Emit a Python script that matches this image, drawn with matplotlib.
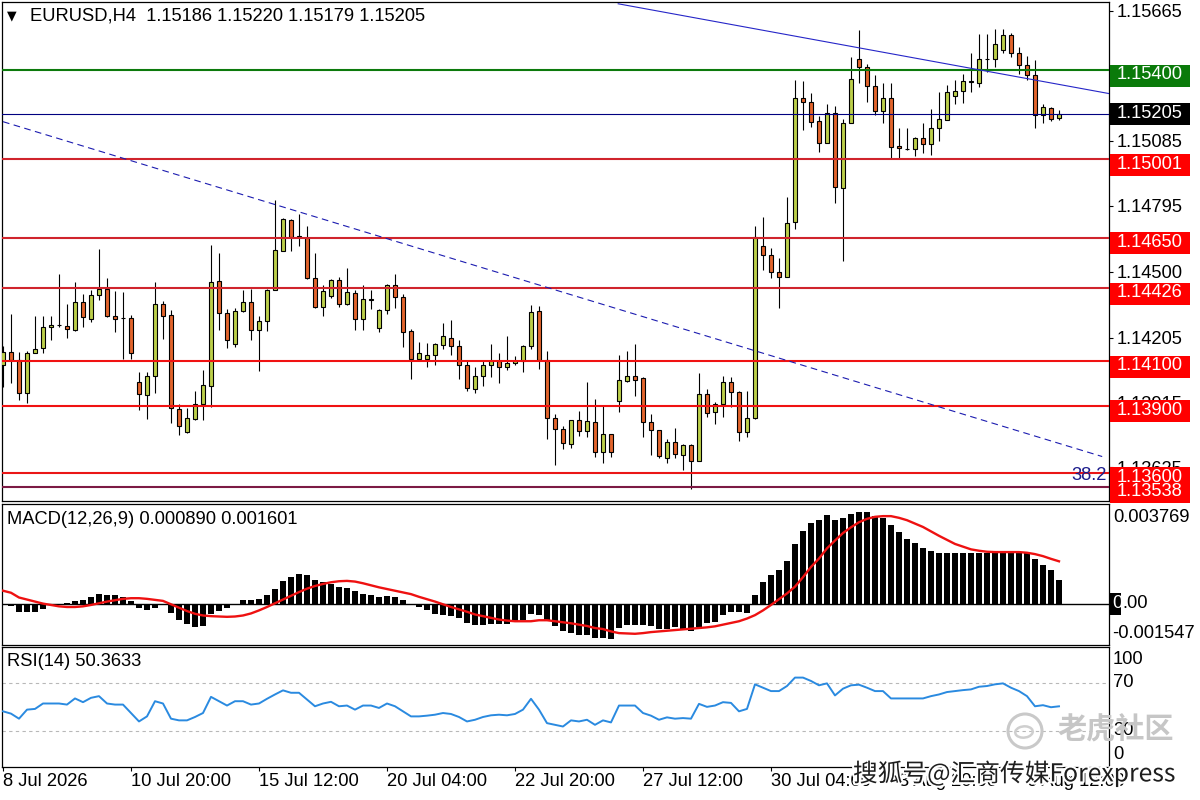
import matplotlib
matplotlib.use('Agg')
import matplotlib.pyplot as plt
import matplotlib.transforms as mtransforms
import matplotlib.patheffects as pe
from matplotlib.patches import Rectangle, Ellipse
import numpy as np

plt.rcParams['font.family'] = ['Liberation Sans', 'DejaVu Sans']

# ---- data (EURUSD H4) ----
opens = [
    1.14080, 1.14139, 1.14103, 1.13958, 1.14136, 1.14159, 1.14252, 1.14260, 1.14258, 1.14240,
    1.14364, 1.14288, 1.14395, 1.14423, 1.14301, 1.14291, 1.14293, 1.14007, 1.13947, 1.14034,
    1.14355, 1.14306, 1.13887, 1.13782, 1.13842, 1.13906, 1.13988, 1.14459, 1.14315, 1.14177,
    1.14322, 1.14364, 1.14240, 1.14277, 1.14419, 1.14594, 1.14731, 1.14659, 1.14652, 1.14471,
    1.14342, 1.14389, 1.14463, 1.14355, 1.14404, 1.14288, 1.14377, 1.14248, 1.14330, 1.14438,
    1.14386, 1.14233, 1.14110, 1.14107, 1.14127, 1.14173, 1.14203, 1.14169, 1.14080, 1.13973,
    1.14032, 1.14080, 1.14099, 1.14074, 1.14089, 1.14099, 1.14166, 1.14322, 1.14103, 1.13847,
    1.13797, 1.13731, 1.13838, 1.13787, 1.13829, 1.13693, 1.13775, 1.13921, 1.14010, 1.14032,
    1.14022, 1.13829, 1.13793, 1.13668, 1.13739, 1.13680, 1.13723, 1.13653, 1.13954, 1.13873,
    1.13906, 1.14007, 1.13962, 1.13784, 1.13847, 1.14612, 1.14575, 1.14500, 1.14475, 1.14721,
    1.15274, 1.15260, 1.15172, 1.15073, 1.15207, 1.14872, 1.15162, 1.15448, 1.15415, 1.15330,
    1.15219, 1.15274, 1.15061, 1.15048, 1.15046, 1.15095, 1.15069, 1.15140, 1.15177, 1.15284,
    1.15306, 1.15348, 1.15345, 1.15449, 1.15452, 1.15492, 1.15556, 1.15479, 1.15422, 1.15378,
    1.15199, 1.15229, 1.15186]
highs = [
    1.14166, 1.14312, 1.14139, 1.14147, 1.14300, 1.14300, 1.14300, 1.14490, 1.14356, 1.14453,
    1.14400, 1.14419, 1.14600, 1.14471, 1.14414, 1.14408, 1.14306, 1.14050, 1.14050, 1.14453,
    1.14370, 1.14330, 1.13906, 1.13891, 1.13965, 1.14058, 1.14620, 1.14585, 1.14334, 1.14337,
    1.14419, 1.14423, 1.14300, 1.14423, 1.14820, 1.14738, 1.14735, 1.14758, 1.14704, 1.14585,
    1.14441, 1.14466, 1.14475, 1.14516, 1.14419, 1.14441, 1.14419, 1.14334, 1.14446, 1.14490,
    1.14400, 1.14243, 1.14185, 1.14181, 1.14181, 1.14270, 1.14285, 1.14193, 1.14099, 1.14074,
    1.14099, 1.14178, 1.14136, 1.14214, 1.14124, 1.14173, 1.14352, 1.14347, 1.14144, 1.13861,
    1.13809, 1.13838, 1.13875, 1.14007, 1.13928, 1.13903, 1.13775, 1.14129, 1.14144, 1.14178,
    1.14029, 1.13864, 1.13793, 1.13750, 1.13799, 1.13731, 1.13727, 1.14047, 1.13977, 1.13918,
    1.14035, 1.14028, 1.13968, 1.13968, 1.14704, 1.14743, 1.14605, 1.14560, 1.14835, 1.15358,
    1.15351, 1.15300, 1.15196, 1.15251, 1.15241, 1.15181, 1.15459, 1.15578, 1.15430, 1.15378,
    1.15343, 1.15341, 1.15140, 1.15140, 1.15102, 1.15162, 1.15225, 1.15303, 1.15333, 1.15355,
    1.15381, 1.15477, 1.15564, 1.15564, 1.15586, 1.15586, 1.15566, 1.15504, 1.15462, 1.15445,
    1.15247, 1.15234, 1.15220]
lows = [
    1.13982, 1.14003, 1.13925, 1.13913, 1.14136, 1.14136, 1.14193, 1.14252, 1.14203, 1.14233,
    1.14252, 1.14273, 1.14374, 1.14297, 1.14228, 1.14111, 1.14107, 1.13880, 1.13839, 1.13955,
    1.14200, 1.13824, 1.13768, 1.13777, 1.13836, 1.13836, 1.13896, 1.14237, 1.14156, 1.14161,
    1.14318, 1.14193, 1.14054, 1.14233, 1.14419, 1.14590, 1.14594, 1.14612, 1.14466, 1.14337,
    1.14303, 1.14380, 1.14342, 1.14349, 1.14237, 1.14237, 1.14333, 1.14228, 1.14312, 1.14337,
    1.14163, 1.14021, 1.14107, 1.14074, 1.14084, 1.14154, 1.14126, 1.14021, 1.13965, 1.13955,
    1.13988, 1.14028, 1.14003, 1.14059, 1.14081, 1.14050, 1.14154, 1.14065, 1.13753, 1.13635,
    1.13708, 1.13713, 1.13764, 1.13762, 1.13672, 1.13646, 1.13672, 1.13872, 1.14005, 1.13943,
    1.13762, 1.13680, 1.13668, 1.13646, 1.13668, 1.13613, 1.13530, 1.13653, 1.13849, 1.13817,
    1.13849, 1.13896, 1.13742, 1.13760, 1.13843, 1.14505, 1.14471, 1.14337, 1.14475, 1.14689,
    1.15132, 1.15144, 1.15036, 1.15073, 1.14808, 1.14545, 1.15162, 1.15341, 1.15259, 1.15199,
    1.15162, 1.15006, 1.15006, 1.15043, 1.15016, 1.15028, 1.15021, 1.15085, 1.15177, 1.15247,
    1.15254, 1.15303, 1.15326, 1.15392, 1.15415, 1.15479, 1.15459, 1.15382, 1.15355, 1.15140,
    1.15162, 1.15174, 1.15179]
closes = [
    1.14139, 1.14103, 1.13958, 1.14136, 1.14154, 1.14252, 1.14263, 1.14261, 1.14243, 1.14364,
    1.14297, 1.14395, 1.14423, 1.14300, 1.14288, 1.14293, 1.14136, 1.13954, 1.14034, 1.14355,
    1.14301, 1.13888, 1.13809, 1.13845, 1.13906, 1.13994, 1.14453, 1.14315, 1.14194, 1.14322,
    1.14364, 1.14240, 1.14279, 1.14419, 1.14597, 1.14734, 1.14656, 1.14654, 1.14471, 1.14342,
    1.14411, 1.14463, 1.14355, 1.14408, 1.14288, 1.14377, 1.14375, 1.14326, 1.14438, 1.14386,
    1.14230, 1.14107, 1.14136, 1.14129, 1.14177, 1.14210, 1.14166, 1.14080, 1.13980, 1.14032,
    1.14080, 1.14099, 1.14074, 1.14093, 1.14101, 1.14169, 1.14318, 1.14103, 1.13847, 1.13797,
    1.13733, 1.13838, 1.13787, 1.13831, 1.13693, 1.13775, 1.13693, 1.14013, 1.14032, 1.14017,
    1.13829, 1.13793, 1.13675, 1.13739, 1.13686, 1.13724, 1.13653, 1.13954, 1.13866, 1.13906,
    1.14007, 1.13961, 1.13784, 1.13847, 1.14656, 1.14575, 1.14500, 1.14475, 1.14716, 1.15274,
    1.15258, 1.15169, 1.15073, 1.15207, 1.14877, 1.15162, 1.15363, 1.15415, 1.15330, 1.15219,
    1.15274, 1.15058, 1.15051, 1.15049, 1.15095, 1.15069, 1.15140, 1.15181, 1.15303, 1.15306,
    1.15352, 1.15350, 1.15448, 1.15448, 1.15516, 1.15556, 1.15479, 1.15422, 1.15378, 1.15199,
    1.15234, 1.15181, 1.15205]

macd_main = [
    -0.00005, -0.000103, -0.000308, -0.000308, -0.000308, -0.000218, -0.00003, -0.00001, 0.00003, 0.000103,
    0.000141, 0.000244, 0.000359, 0.000321, 0.000321, 0.000269, 0.000103, -0.000154, -0.000257, -0.000154,
    -0.000051, -0.000346, -0.000603, -0.000757, -0.000885, -0.00086, -0.0004, -0.000282, -0.00018, -0.00005,
    0.000128, 0.000128, 0.000167, 0.000321, 0.000552, 0.000872, 0.001, 0.00113, 0.001065, 0.000898,
    0.000808, 0.000744, 0.000616, 0.00059, 0.000462, 0.000359, 0.000334, 0.000257, 0.000295, 0.000257,
    0.000128, 0.0, -0.000128, -0.000257, -0.000411, -0.000449, -0.000475, -0.000539, -0.000731, -0.000795,
    -0.000795, -0.00077, -0.00077, -0.00077, -0.000693, -0.000603, -0.000411, -0.000449, -0.000603, -0.00086,
    -0.001026, -0.001116, -0.00118, -0.00118, -0.001309, -0.001309, -0.001334, -0.000924, -0.000795, -0.000795,
    -0.000795, -0.00086, -0.000949, -0.000949, -0.000898, -0.000988, -0.001026, -0.000898, -0.000731, -0.000693,
    -0.000436, -0.000308, -0.000308, -0.000346, 0.000334, 0.000808, 0.001065, 0.001257, 0.001604, 0.002258,
    0.002758, 0.003054, 0.003182, 0.003336, 0.003156, 0.003246, 0.003374, 0.003477, 0.003477, 0.00331,
    0.003246, 0.002989, 0.002707, 0.002438, 0.002284, 0.002091, 0.001989, 0.001925, 0.001925, 0.001925,
    0.001925, 0.001925, 0.001925, 0.001925, 0.001925, 0.002001, 0.001925, 0.001899, 0.001899, 0.001706,
    0.00145, 0.001257, 0.000890]
macd_signal = [
    0.000488, 0.000411, 0.000231, 0.000154, 0.000077, 0.0, -0.000051, -0.000103, -0.000128, -0.000128,
    -0.000103, -0.000051, 0.000013, 0.000077, 0.000128, 0.00018, 0.000205, 0.000205, 0.00018, 0.000141,
    0.000103, -0.000026, -0.000154, -0.000282, -0.000385, -0.000449, -0.000475, -0.000488, -0.0005, -0.000488,
    -0.000449, -0.000372, -0.000257, -0.000128, 0.000013, 0.000154, 0.000295, 0.000436, 0.000565, 0.000667,
    0.000744, 0.000808, 0.000847, 0.00086, 0.000834, 0.00077, 0.000693, 0.000616, 0.000552, 0.000488,
    0.000423, 0.000359, 0.000257, 0.000167, 0.000077, -0.000026, -0.000128, -0.000218, -0.000308, -0.000411,
    -0.000475, -0.000539, -0.000603, -0.000642, -0.000667, -0.000667, -0.000667, -0.000629, -0.000629, -0.000667,
    -0.000706, -0.000744, -0.000795, -0.000847, -0.000924, -0.000962, -0.001052, -0.001116, -0.001129, -0.001142,
    -0.001116, -0.001078, -0.001052, -0.001026, -0.001001, -0.000975, -0.000949, -0.000924, -0.000898, -0.00086,
    -0.000795, -0.000731, -0.000667, -0.000565, -0.000436, -0.000257, -0.000051, 0.000167, 0.000385, 0.000642,
    0.001, 0.001386, 0.001706, 0.002091, 0.002386, 0.002669, 0.002887, 0.003079, 0.003208, 0.003284,
    0.00331, 0.00331, 0.003246, 0.003156, 0.003028, 0.0029, 0.002733, 0.002566, 0.002412, 0.002258,
    0.002155, 0.002053, 0.002001, 0.001963, 0.00195, 0.00195, 0.00195, 0.00195, 0.001925, 0.001873,
    0.001796, 0.001694, 0.001601]
rsi_vals = [
    46.2, 44.3, 40.1, 47.6, 48.2, 52.7, 52.7, 52.7, 51.8, 56.9,
    53.8, 57.4, 58.8, 52.7, 51.8, 51.8, 44.8, 37.8, 42.0, 54.6,
    52.7, 40.1, 38.7, 38.7, 41.5, 44.8, 58.2, 54.6, 51.0, 54.6,
    54.6, 51.8, 52.7, 56.6, 60.2, 63.6, 61.6, 61.6, 56.0, 50.4,
    52.7, 54.1, 50.4, 51.0, 47.6, 51.0, 51.0, 49.0, 52.7, 50.4,
    46.2, 42.0, 42.0, 42.6, 43.4, 44.8, 44.0, 41.5, 37.8, 39.2,
    41.5, 42.9, 43.4, 42.9, 44.0, 47.6, 56.6, 47.6, 36.4, 35.0,
    33.6, 38.7, 37.8, 39.2, 35.0, 38.7, 37.0, 51.0, 51.0, 51.0,
    44.8, 42.6, 39.2, 41.2, 40.1, 40.6, 40.1, 52.4, 49.9, 51.0,
    53.8, 53.2, 46.2, 48.2, 68.6, 65.8, 63.0, 63.0, 67.2, 74.2,
    74.2, 71.4, 67.8, 69.4, 59.4, 65.0, 67.8, 68.3, 65.8, 63.0,
    63.0, 56.9, 56.9, 56.9, 56.9, 56.9, 58.8, 60.2, 62.2, 63.0,
    63.8, 64.4, 66.6, 67.2, 68.6, 69.4, 65.8, 63.0, 58.8, 50.4,
    51.3, 49.6, 50.3633]

date_ticks = [0, 16, 32, 48, 64, 80, 96, 112, 128]
date_labels = ['8 Jul 2026', '10 Jul 20:00', '15 Jul 12:00', '20 Jul 04:00', '22 Jul 20:00',
               '27 Jul 12:00', '30 Jul 04:00', '3 Aug 20:00', '6 Aug 12:00']

price_ticks = [1.15665, 1.15375, 1.15085, 1.14795, 1.14500, 1.14205, 1.13915, 1.13625]

levels = [1.15400, 1.15001, 1.14650, 1.14426, 1.14100, 1.13900, 1.13600, 1.13538]
level_line_colors = ['#0c7a0c', '#d0242c', '#d0242c', '#d0242c', '#f01212', '#f01212', '#ea1616', '#7c1a44']
level_box_colors = ['#0a7a0a', '#ff0000', '#ff0000', '#ff0000', '#ff0000', '#ff0000', '#ff0000', '#ff0000']
bid_price = 1.15205

trend_solid = [(76.9, 1.15697), (138.2, 1.15296)]
trend_dashed = [(0.0, 1.15170), (137.4, 1.13673)]
fibo_level = 1.13538
fibo_text = '38.2'

macd_top, macd_bottom = 0.003769, -0.001547

# ---- layout helpers (pixels of a 1200x800 picture) ----
W, H = 1200, 800
FS = 13.2
PRICE_TOP, PRICE_BOT = 1.15705, 1.13472
PX = (PRICE_TOP - PRICE_BOT) / 499.5   # price per pixel


def fx(x):
    return x / W


def fy(y):
    return 1 - y / H


BULL = '#bccf4a'
BEAR = '#e2642c'

fig = plt.figure(figsize=(12, 8), dpi=100)
fig.patch.set_facecolor('white')

ax_p = fig.add_axes([fx(2), fy(501.5), fx(1108.5) - fx(2), (501.5 - 2) / H])
ax_m = fig.add_axes([fx(2), fy(644.5), fx(1108.5) - fx(2), (644.5 - 504) / H])
ax_r = fig.add_axes([fx(2), fy(767), fx(1108.5) - fx(2), (767 - 646.5) / H])

idx = np.arange(len(closes))
for ax in (ax_p, ax_m, ax_r):
    ax.set_xlim(-0.125, 138.19)
    for s in ax.spines.values():
        s.set_linewidth(0.9)
        s.set_color('black')
    ax.tick_params(axis='x', bottom=False, labelbottom=False)
    ax.tick_params(axis='y', left=False, labelleft=False, right=False, labelright=False)

# ---- price panel ----
o = np.array(opens)
c = np.array(closes)
h = np.array(highs)
l = np.array(lows)
ax_p.vlines(idx, l, h, color='black', lw=0.8, zorder=2)
body_colors = np.where(c > o, BULL, BEAR)
ax_p.bar(idx, np.maximum(np.abs(c - o), 0.000004), bottom=np.minimum(o, c), width=0.62,
         color=body_colors, edgecolor='black', linewidth=0.8, zorder=3)
ax_p.set_ylim(PRICE_BOT, PRICE_TOP)

for lv, lc in zip(levels, level_line_colors):
    ax_p.axhline(lv, color=lc, lw=1.5, zorder=4)
ax_p.axhline(bid_price, color='#000080', lw=0.8, zorder=4)

ax_p.plot([p[0] for p in trend_solid], [p[1] for p in trend_solid], color='#2626c8', lw=0.8, zorder=4)
ax_p.plot([p[0] for p in trend_dashed], [p[1] for p in trend_dashed], color='#1c1cb0', lw=0.8,
          ls=(0, (6, 4)), zorder=4)

trans_pa = mtransforms.blended_transform_factory(ax_p.transAxes, ax_p.transData)
ax_p.text(0.998, fibo_level + 2.5 * PX, fibo_text, transform=trans_pa, ha='right', va='bottom',
          color='#1c1c8c', fontsize=FS, zorder=5)

# right price scale
ax_p.yaxis.tick_right()
ax_p.set_yticks(price_ticks)
ax_p.set_yticklabels([f'{v:.5f}' for v in price_ticks])
ax_p.tick_params(axis='y', right=True, labelright=True, length=3, width=0.8, pad=2.6, labelsize=FS)

trans_pf = mtransforms.blended_transform_factory(fig.transFigure, ax_p.transData)
box_h = 22 * PX
for lv, bc in list(zip(levels, level_box_colors)) + [(bid_price, 'black')]:
    off = 0.5 * PX if lv == bid_price else 5.5 * PX
    cy = lv - off
    ax_p.add_patch(Rectangle((fx(1110), cy - box_h / 2), fx(1190) - fx(1110), box_h,
                             transform=trans_pf, facecolor=bc, edgecolor='none',
                             clip_on=False, zorder=6))
    ax_p.text(fx(1150), cy + 0.8 * PX, f'{lv:.5f}', transform=trans_pf, ha='center', va='center',
              color='white', fontsize=FS, clip_on=False, zorder=7)

# ---- MACD panel ----
ax_m.bar(idx, macd_main, width=0.75, color='black', zorder=2)
ax_m.axhline(0, color='black', lw=1.0, zorder=3)
ax_m.plot(idx, macd_signal, color='#ee1111', lw=1.7, zorder=4)
ax_m.set_ylim(macd_bottom, macd_top)

trans_mf = mtransforms.blended_transform_factory(fig.transFigure, ax_m.transAxes)
trans_md = mtransforms.blended_transform_factory(fig.transFigure, ax_m.transData)
ax_m.text(fx(1113), 0.905, f'{macd_top:.6f}', transform=trans_mf, ha='left', va='center',
          fontsize=FS, clip_on=False)
ax_m.text(fx(1112), 0.08, f'{macd_bottom:.6f}', transform=trans_mf, ha='left', va='center',
          fontsize=FS, clip_on=False)
ax_m.add_patch(Rectangle((fx(1110), -11 * 0.0000385), fx(1121) - fx(1110), 21 * 0.0000385,
                         transform=trans_md, facecolor='black', edgecolor='none', clip_on=False))
ax_m.text(fx(1112), 0, '0', transform=trans_md, ha='left', va='center', color='white',
          fontsize=FS, clip_on=False)
ax_m.text(fx(1122), 0, '.00', transform=trans_md, ha='left', va='center', color='black',
          fontsize=FS, clip_on=False)

fig.text(fx(7), fy(520), f'MACD(12,26,9) {macd_main[-1]:.6f} {macd_signal[-1]:.6f}',
         fontsize=FS, va='center')

# ---- RSI panel ----
ax_r.plot(idx, rsi_vals, color='#2a8ae0', lw=1.4, zorder=3)
for lv in (70, 30):
    ax_r.axhline(lv, color='#b8b8b8', lw=0.8, ls=(0, (3, 3)), zorder=1)
ax_r.set_ylim(0, 100)

trans_rf = mtransforms.blended_transform_factory(fig.transFigure, ax_r.transAxes)
trans_rd = mtransforms.blended_transform_factory(fig.transFigure, ax_r.transData)
ax_r.text(fx(1113), 0.89, '100', transform=trans_rf, ha='left', va='center', fontsize=FS, clip_on=False)
ax_r.text(fx(1113), 70, '70', transform=trans_rd, ha='left', va='center', fontsize=FS, clip_on=False)
ax_r.text(fx(1113), 30, '30', transform=trans_rd, ha='left', va='center', fontsize=FS, clip_on=False)
ax_r.text(fx(1113), 0.10, '0', transform=trans_rf, ha='left', va='center', fontsize=FS, clip_on=False)

fig.text(fx(7), fy(662), f'RSI(14) {rsi_vals[-1]:.4f}', fontsize=FS, va='center')

ax_r.set_xticks(date_ticks)
ax_r.set_xticklabels(date_labels)
ax_r.tick_params(axis='x', bottom=True, labelbottom=True, length=3, width=0.8, pad=1.0, labelsize=FS)
for lbl in ax_r.get_xticklabels():
    lbl.set_ha('left')

# ---- header ----
fig.text(fx(7), fy(16), '\u25bc', fontsize=9, family='DejaVu Sans', va='center')
fig.text(fx(30), fy(16), 'EURUSD,H4  ' + ' '.join(f'{v:.5f}' for v in
         (opens[-1], highs[-1], lows[-1], closes[-1])), fontsize=FS, va='center')

# ---- watermarks ----
fig.add_artist(Ellipse((fx(1025), fy(731)), 34 / W, 34 / H, transform=fig.transFigure,
                       fill=False, edgecolor='#c9c9c9', lw=2.2))
fig.add_artist(Ellipse((fx(1024), fy(732)), 18 / W, 11 / H, angle=35, transform=fig.transFigure,
                       fill=False, edgecolor='#cfcfcf', lw=1.8))
fig.text(fx(1116), fy(729), '老虎社区', fontsize=21, color='#c6c6c6', ha='center', va='center',
         family=['Noto Sans CJK SC', 'DejaVu Sans'], weight='bold')
fig.text(fx(853), fy(774), '搜狐号@汇商传媒Forexpress', fontsize=17.8, color='#1e1e1e', va='center',
         family=['Noto Sans CJK SC', 'DejaVu Sans'],
         path_effects=[pe.withStroke(linewidth=3, foreground='white')])

fig.savefig('out.png', dpi=100, facecolor='white')
